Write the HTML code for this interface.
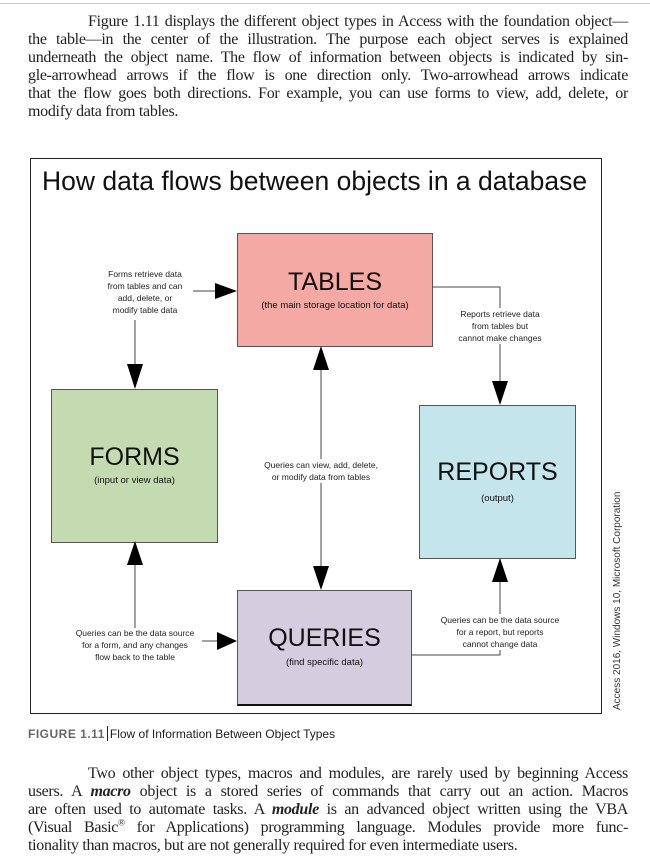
<!DOCTYPE html>
<html><head><meta charset="utf-8"><style>
body{margin:0;width:650px;height:861px;background:#fff;position:relative;overflow:hidden;font-family:"Liberation Serif",serif;color:#222}
.topline{position:absolute;left:0;top:3px;width:650px;height:1px;background:#ccc}
.l{position:absolute;left:28px;width:600px;font-size:16px;line-height:18px;white-space:nowrap;text-align:justify;text-align-last:justify;letter-spacing:-0.3px}
.l.s{text-align-last:left}
.sans{font-family:"Liberation Sans",sans-serif}
.box{position:absolute;border:1px solid #555;font-family:"Liberation Sans",sans-serif;text-align:center;color:#111}
.t{position:absolute;font-family:"Liberation Sans",sans-serif;font-size:8.5px;line-height:12px;text-align:center;color:#222;white-space:nowrap}
.t span{background:#fff}
</style></head><body>
<div class="topline"></div>
<div class="l" style="top:13px;left:88px;width:540px">Figure 1.11 displays the different object types in Access with the foundation object—</div>
<div class="l" style="top:31px">the table—in the center of the illustration. The purpose each object serves is explained</div>
<div class="l" style="top:49px">underneath the object name. The flow of information between objects is indicated by sin-</div>
<div class="l" style="top:67px">gle-arrowhead arrows if the flow is one direction only. Two-arrowhead arrows indicate</div>
<div class="l" style="top:85px">that the flow goes both directions. For example, you can use forms to view, add, delete, or</div>
<div class="l s" style="top:103px">modify data from tables.</div>

<div style="position:absolute;left:30px;top:158px;width:570px;height:554px;border:1px solid #222"></div>
<div class="sans" style="position:absolute;left:42px;top:166px;font-size:26.5px;color:#111;white-space:nowrap">How data flows between objects in a database</div>

<div class="box" style="left:237px;top:233px;width:194px;height:112px;background:#f5a9a4"><div style="font-size:25px;margin-top:34px">TABLES</div><div style="font-size:9.5px;margin-top:3px">(the main storage location for data)</div></div>
<div class="box" style="left:51px;top:389px;width:165px;height:152px;background:#c4dbb2"><div style="font-size:25px;margin-top:53px">FORMS</div><div style="font-size:9.5px;margin-top:3px">(input or view data)</div></div>
<div class="box" style="left:419px;top:405px;width:155px;height:152px;background:#c3e5eb"><div style="font-size:25px;margin-top:52px">REPORTS</div><div style="font-size:9.5px;margin-top:6px">(output)</div></div>
<div class="box" style="left:237px;top:590px;width:173px;height:113px;background:#d4cde0;border-bottom:2px solid #111"><div style="font-size:25px;margin-top:33px">QUERIES</div><div style="font-size:9.5px;margin-top:4px">(find specific data)</div></div>

<svg style="position:absolute;left:0;top:0" width="650" height="861">
<g stroke="#444" stroke-width="1" fill="none">
<path d="M193 291H215"/>
<path d="M135 320V370"/>
<path d="M432 287H500V385"/>
<path d="M321 370V570"/>
<path d="M135 565V628"/>
<path d="M202 641H218"/>
<path d="M411 655H500V578"/>
</g>
<g fill="#000">
<polygon points="215,283 237,291 215,299"/>
<polygon points="127,364 143,364 135,389"/>
<polygon points="492,381 508,381 500,405"/>
<polygon points="313,370 329,370 321,346"/>
<polygon points="313,566 329,566 321,590"/>
<polygon points="127,565 143,565 135,541"/>
<polygon points="217,632 237,641 217,650"/>
<polygon points="492,582 508,582 500,558"/>
</g>
</svg>

<div class="t" style="left:90px;top:268px;width:110px">Forms retrieve data<br>from tables and can<br>add, delete, or<br>modify table data</div>
<div class="t" style="left:440px;top:308px;width:120px;background:#fff">Reports retrieve data<br>from tables but<br>cannot make changes</div>
<div class="t" style="left:250px;top:459px;width:142px;background:#fff">Queries can view, add, delete,<br>or modify data from tables</div>
<div class="t" style="left:60px;top:627px;width:150px">Queries can be the data source<br>for a form, and any changes<br>flow back to the table</div>
<div class="t" style="left:425px;top:614px;width:150px;background:#fff">Queries can be the data source<br>for a report, but reports<br>cannot change data</div>

<div class="sans" style="position:absolute;left:612px;top:710px;transform:rotate(-90deg);transform-origin:0 0;font-size:10px;color:#333;white-space:nowrap">Access 2016, Windows 10, Microsoft Corporation</div>

<div class="sans" style="position:absolute;left:28px;top:726px;font-size:12px;white-space:nowrap;color:#222"><b style="color:#666;letter-spacing:0.5px">FIGURE 1.11</b><span style="display:inline-block;width:1px;height:15px;background:#222;vertical-align:-3px;margin:0 2px"></span>Flow of Information Between Object Types</div>

<div class="l" style="top:765px;left:88px;width:540px">Two other object types, macros and modules, are rarely used by beginning Access</div>
<div class="l" style="top:783px">users. A <b><i>macro</i></b> object is a stored series of commands that carry out an action. Macros</div>
<div class="l" style="top:801px">are often used to automate tasks. A <b><i>module</i></b> is an advanced object written using the VBA</div>
<div class="l" style="top:819px">(Visual Basic<sup style="font-size:9px;line-height:0">®</sup> for Applications) programming language. Modules provide more func-</div>
<div class="l s" style="top:837px">tionality than macros, but are not generally required for even intermediate users.</div>
</body></html>
